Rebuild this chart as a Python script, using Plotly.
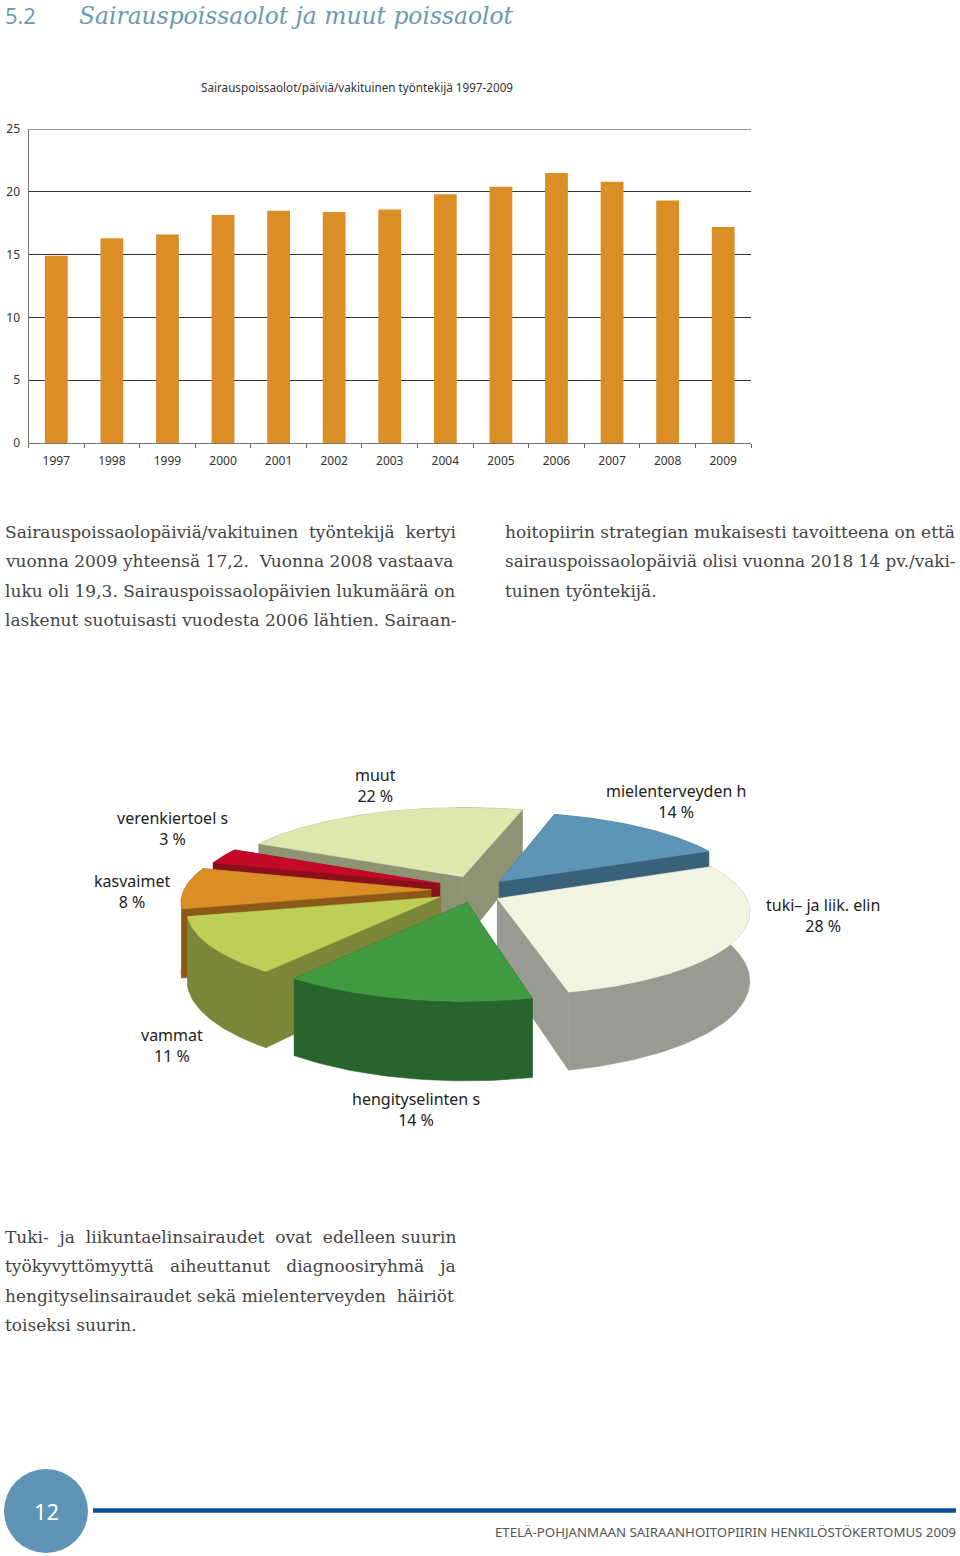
import math
import plotly.graph_objects as go

# ---- bar chart data
YEARS = ["1997","1998","1999","2000","2001","2002","2003","2004","2005","2006","2007","2008","2009"]
DAYS = [14.9,16.3,16.6,18.15,18.5,18.4,18.6,19.8,20.4,21.5,20.8,19.3,17.2]
Y_TICKS = [0,5,10,15,20,25]

# ---- pie chart data (clockwise order from the start angle)
PIE_NAMES = ["tuki- ja liik. elin","hengityselinten s","vammat","kasvaimet","verenkiertoel s","muut","mielenterveyden h"]
PIE_SHARES = [28,14,11,8,3,22,14]
TOP_COLORS = ["#F0F4E0","#409A40","#BFCE55","#DA8E25","#C4092A","#DFE6AE","#5C95B6"]
SIDE_COLORS = ["#989B90","#28652C","#7C8639","#8C5A18","#8A101C","#8D9374","#38617A"]
DRAW_ORDER = [5,6,4,3,0,2,1]

TITLE_NO = "5.2"
TITLE = "Sairauspoissaolot ja muut poissaolot"
CHART_TITLE = "Sairauspoissaolot/päiviä/vakituinen työntekijä 1997-2009"
BODY_LEFT = ["Sairauspoissaolopäiviä/vakituinen  työntekijä  kertyi",
             "vuonna 2009 yhteensä 17,2.  Vuonna 2008 vastaava",
             "luku oli 19,3. Sairauspoissaolopäivien lukumäärä on",
             "laskenut suotuisasti vuodesta 2006 lähtien. Sairaan-"]
BODY_RIGHT = ["hoitopiirin strategian mukaisesti tavoitteena on että",
              "sairauspoissaolopäiviä olisi vuonna 2018 14 pv./vaki-",
              "tuinen työntekijä."]
BODY_BOTTOM = ["Tuki-  ja  liikuntaelinsairaudet  ovat  edelleen suurin",
               "työkyvyttömyyttä   aiheuttanut   diagnoosiryhmä   ja",
               "hengityselinsairaudet sekä mielenterveyden  häiriöt",
               "toiseksi suurin."]
FOOTER = "ETELÄ-POHJANMAAN SAIRAANHOITOPIIRIN HENKILÖSTÖKERTOMUS 2009"
PAGE_NO = "12"

W, H = 960, 1556
fig = go.Figure()

fig.add_trace(go.Bar(x=YEARS, y=DAYS, marker=dict(color="#DA8E25", line_width=0),
                     xaxis="x", yaxis="y", hoverinfo="x+y"))

# ---- exploded 3D pie: projection of a tilted disc
CX, CY = 466, 892
R, EXPL, TILT, PERSP, DEPTH = 247, 38, 0.33, 0.000555, 67
START = 336
SLICE_SHIFT = {0: (-3, 1), 1: (9, -2), 2: (6, -2), 3: (3, -2), 4: (9, -4), 5: (12, -4), 6: (9, -1)}

def proj(X, Y, down=False, shift=(0, 0)):
    s = 1 / (1 - PERSP * Y)
    return CX + shift[0] + X * s, CY + shift[1] + TILT * Y * s + (DEPTH * s if down else 0)

total = sum(PIE_SHARES)
angles = [START]
for v in PIE_SHARES:
    angles.append(angles[-1] + 360 * v / total)

def poly(points, color, name=None):
    pts = list(points) + [points[0]]
    fig.add_trace(go.Scatter(x=[p[0] for p in pts], y=[p[1] for p in pts], mode="lines", fill="toself",
                             fillcolor=color, line=dict(color=color, width=0.5), xaxis="x2", yaxis="y2",
                             name=name, hoverinfo="name" if name else "skip"))

for i in DRAW_ORDER:
    a0, a1 = math.radians(angles[i]), math.radians(angles[i + 1])
    mid = (a0 + a1) / 2
    sh = SLICE_SHIFT[i]
    ax, ay = EXPL * math.cos(mid), EXPL * math.sin(mid)
    n = max(8, int(PIE_SHARES[i] * 3))
    rim = [(ax + R * math.cos(a0 + (a1 - a0) * t / n), ay + R * math.sin(a0 + (a1 - a0) * t / n)) for t in range(n + 1)]
    for pts in ([(ax, ay), rim[0]], [(ax, ay), rim[-1]], rim):
        poly([proj(*p, shift=sh) for p in pts] + [proj(*p, down=True, shift=sh) for p in reversed(pts)], SIDE_COLORS[i])
    poly([proj(ax, ay, shift=sh)] + [proj(*p, shift=sh) for p in rim], TOP_COLORS[i], PIE_NAMES[i])

ann = []
def text(x, y, s, size, color="#444444", family="DejaVu Serif", anchor="left", style="normal"):
    ann.append(dict(x=x, y=y, xref="x2", yref="y2", text=s, showarrow=False, xanchor=anchor, yanchor="middle",
                    font=dict(size=size, color=color, family=family, style=style), align="center"))

SANS = "Noto Sans"
text(3, 15, TITLE_NO, 22, "#6A9AB4", "Open Sans")
text(77, 16, TITLE, 23.4, "#6A9AB4", "DejaVu Serif", style="italic")
text(357, 86.5, CHART_TITLE, 11.7, "#333333", SANS, anchor="center")
for col, x, ystart in ((BODY_LEFT, 2.5, 532), (BODY_RIGHT, 502.5, 532), (BODY_BOTTOM, 2.5, 1237)):
    for k, line in enumerate(col):
        text(x, ystart + k * 29.3, line, 16.85 if "vaki-" in line else 17)

LABEL_POS = [(823, 915), (416, 1109), (172, 1045), (132, 891), (172, 828), (375, 785), (676, 801)]
for name, share, (lx, ly) in zip(PIE_NAMES, PIE_SHARES, LABEL_POS):
    text(lx, ly, f"{name.replace('tuki-', 'tuki–')}<br>{share} %", 16, "#222222", SANS, anchor="center")

text(46, 1511, PAGE_NO, 22, "#FFFFFF", SANS, anchor="center")
text(958, 1532, FOOTER, 13.25, "#555555", SANS, anchor="right")

shapes = [
    dict(type="circle", xref="x2", yref="y2", x0=4, x1=88, y0=1469, y1=1553, fillcolor="#6094B6", line_width=0),
    dict(type="line", xref="x2", yref="y2", x0=93, x1=956, y0=1510.5, y1=1510.5, line=dict(color="#0B4F94", width=4.5)),
    dict(type="line", xref="x domain", yref="y", x0=0, x1=1, y0=25, y1=25, line=dict(color="#333333", width=1)),
]

fig.update_layout(
    template="none",
    width=W, height=H, autosize=False, margin=dict(l=0, r=0, t=0, b=0, pad=0, autoexpand=False), showlegend=False,
    paper_bgcolor="white", plot_bgcolor="rgba(0,0,0,0)", bargap=0.59,
    annotations=ann, shapes=shapes,
    xaxis=dict(domain=[28.5 / W, 751 / W], type="category", tickson="boundaries", ticks="outside", ticklen=4,
               tickcolor="#666666", showgrid=False, showline=True, linecolor="#777777", linewidth=1, automargin=False,
               tickfont=dict(family=SANS, size=12, color="#333333"), anchor="y", ticklabelstandoff=7),
    yaxis=dict(domain=[1 - 443 / H, 1 - 129 / H], range=[0, 25], tickvals=Y_TICKS, showgrid=True, automargin=False,
               gridcolor="#333333", gridwidth=1, zeroline=False, showline=True, linecolor="#777777", linewidth=1,
               ticks="", tickfont=dict(family=SANS, size=12, color="#333333"), anchor="x", ticklabelstandoff=5),
    xaxis2=dict(domain=[0, 1], range=[0, W], visible=False, anchor="y2", fixedrange=True, automargin=False),
    yaxis2=dict(domain=[0, 1], range=[H, 0], visible=False, anchor="x2", fixedrange=True, automargin=False),
)
fig.write_html("out.html", config=dict(displayModeBar=False), post_script="document.body.style.margin='0';")
